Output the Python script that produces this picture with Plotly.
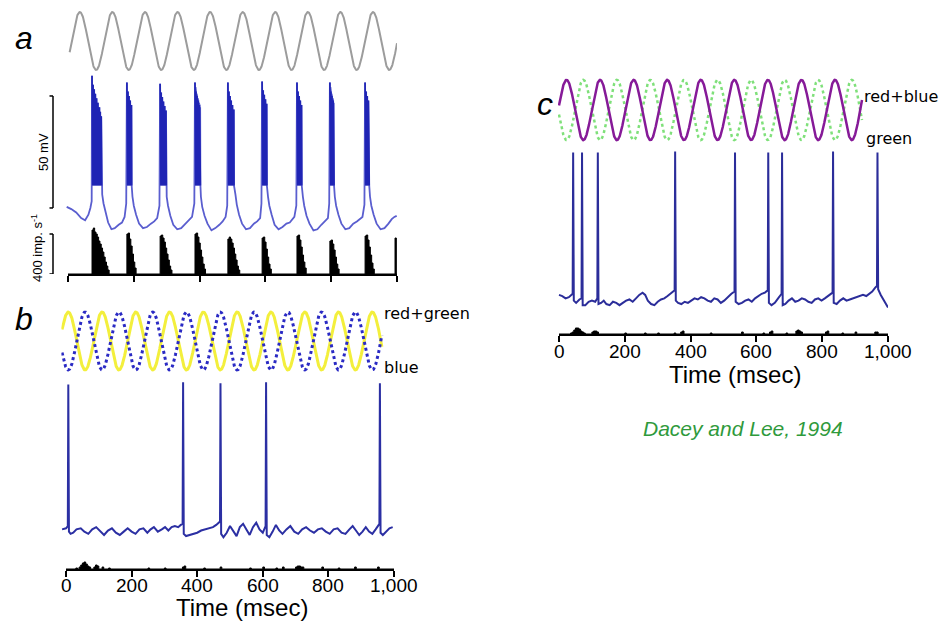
import numpy as np
import plotly.graph_objects as go

W, H = 943, 622

# ------------------------------------------------------------------ data
TIME_TICKS = [0, 200, 400, 600, 800, 1000]
TIME_TICK_TEXT = ["0", "200", "400", "600", "800", "1,000"]

# ---- panel a: achromatic sinusoidal stimulus (ms)
A_STIM_START, A_STIM_END = 5, 1000
A_STIM_PERIOD = 99.0
A_STIM_PEAK = 36.0

# ---- panel a: membrane potential baseline (ms, mV)
A_BASE_T = [-4, 10, 25, 40, 52, 62, 68, 72,
            104, 108, 114, 122, 132, 142, 154, 164, 172, 177,
            196, 200, 207, 216, 228, 240, 252, 262, 271, 278,
            300, 304, 311, 320, 332, 344, 356, 366, 377, 384,
            404, 408, 415, 424, 436, 448, 460, 470, 479, 484,
            509, 513, 520, 529, 541, 553, 565, 575, 584, 588,
            608, 612, 619, 628, 640, 652, 664, 674, 688, 694,
            714, 718, 725, 734, 746, 758, 770, 780, 790, 794,
            811, 815, 822, 831, 843, 855, 867, 878, 895, 901,
            918, 922, 929, 938, 950, 962, 974, 984, 992, 999]
A_BASE_V = [-59.5, -60.5, -62, -64.5, -65.5, -63, -60, -57,
            -54, -58, -62, -66.5, -69.5, -69, -67.5, -66.5, -64, -58,
            -55, -59, -63, -67, -69, -68.5, -67, -66, -64.5, -59,
            -55, -59, -63.5, -67.5, -69.5, -69, -67, -65.5, -64, -58,
            -55, -59.5, -63.5, -67, -70, -69, -67.5, -66, -64, -59,
            -54, -58.5, -63, -67, -69.5, -69, -67, -66, -64.5, -58,
            -55, -59, -63, -67.5, -69.5, -68.5, -67, -66.5, -64, -59,
            -55, -59, -63.5, -67, -70, -69.5, -67.5, -66, -64.5, -58,
            -55, -59, -63, -67, -69.5, -69, -67, -66, -64, -58.5,
            -55, -59, -63, -67, -69.5, -69, -67, -65, -64, -63.5]
# spike bursts
A_BURST_ONSET = [73, 179, 280, 386, 486, 590, 696, 796, 903]
A_BURST_N = [15, 9, 11, 10, 11, 9, 9, 8, 8]
A_BURST_TOP = [-1, -4, -4.5, -4, -4, -3.5, -4, -4, -4]
A_SPIKE_OFFSET = [0, 1.6, 3.2, 4.8, 6.5, 8.2, 10, 11.8, 13.7, 15.7, 17.8, 20, 22.4, 25, 28]
A_SPIKE_DROP = [0, -2, -4, -5, -6, -7, -8, -9, -10, -11, -12, -13, -14, -16, -18]
A_BURST_TROUGH = -50

# ---- panel a: firing-rate histogram (imp/s), 4 ms bins
A_HIST_BIN = 4
A_HIST_START = [73, 179, 280, 386, 486, 590, 696, 796, 903, 994]
A_HIST_COUNTS = [
    [440, 460, 420, 400, 370, 330, 300, 260, 220, 170, 120, 80, 40],
    [400, 410, 350, 280, 200, 120, 60],
    [380, 390, 360, 320, 260, 200, 140, 80, 40],
    [400, 410, 370, 310, 240, 170, 100, 50],
    [350, 370, 350, 310, 260, 200, 140, 80, 40],
    [360, 370, 320, 250, 170, 100, 50],
    [380, 390, 340, 270, 190, 120, 60],
    [330, 340, 300, 240, 170, 100, 50],
    [380, 390, 340, 270, 190, 110, 50],
    [360],
]

# ---- panel b: red+green vs blue stimulus
B_STIM_START, B_STIM_END = -12, 963
B_STIM_PERIOD = 103.0
B_STIM_PEAK = 7.0
# membrane potential
B_BASE_T = [-12, 0, 5.5, 9, 14, 22, 32, 45, 56, 68, 80, 92, 104, 116, 128, 140, 152, 164,
            176, 188, 200, 212, 224, 236, 248, 258, 268, 280, 292, 302, 312, 322, 332, 342,
            350, 355.5, 359, 366, 376, 388, 400, 412, 424, 436, 448, 458, 469.5, 473, 480,
            490, 500, 510, 520, 530, 540, 550, 560, 570, 580, 590, 600, 608.5, 612, 620,
            630, 640, 650, 660, 672, 684, 696, 708, 720, 732, 744, 756, 768, 780, 792, 804,
            816, 828, 840, 852, 864, 874, 884, 894, 904, 914, 924, 934, 944, 955.5, 959,
            966, 976, 986, 996]
B_BASE_V = [-65, -64.5, -63.5, -66, -67, -66.5, -65, -64.5, -66, -67, -65, -64, -66, -67.5,
            -65.5, -64.5, -66.5, -67.5, -66, -64.5, -66, -67, -65, -64.5, -66.5, -65, -64,
            -66, -65, -64, -65.5, -64, -63.5, -64, -63, -62.5, -67, -68, -67.5, -67, -66.5,
            -65.5, -65, -64.5, -64, -63, -61.5, -67, -68.5, -66.5, -63.5, -66, -68, -64,
            -62.5, -65, -67.5, -64, -62, -65, -66.5, -63.5, -67.5, -68.5, -66, -63, -65.5,
            -67, -65, -63.5, -66, -67, -65, -64, -65.5, -66.5, -65, -64.5, -66, -67, -65,
            -64.5, -66.5, -67, -65, -63.5, -65.5, -67.5, -66, -64, -66, -67, -65, -62.5,
            -66.5, -67.5, -66, -64.5, -64]
B_SPIKE_T = [7, 357, 471, 610, 957]
B_SPIKE_V = [0, 1, 0.5, 1, 0.5]
# histogram (imp/s), 5 ms bins
B_HIST_BIN = 5
B_HIST_T = [30, 40, 45, 50, 55, 60, 65, 70, 85, 90, 95, 110, 130, 250, 300, 355, 360, 420,
            470, 560, 600, 640, 660, 700, 705, 710, 715, 720, 780, 830, 880, 950]
B_HIST_V = [10, 20, 40, 60, 70, 50, 30, 20, 20, 40, 30, 20, 10, 10, 10, 20, 30, 10,
            20, 10, 20, 10, 20, 20, 30, 30, 20, 20, 20, 10, 20, 20]

# ---- panel c: red+blue vs green stimulus
C_STIM_START, C_STIM_END = 0, 921
C_STIM_PERIOD = 102.0
C_STIM_PEAK = 23.0
C_BASE_T = [0, 10, 20, 30, 41.5, 45, 52, 62, 68.5, 72, 80, 90, 100, 110, 116.5, 120, 128,
            136, 144, 154, 164, 174, 184, 194, 204, 214, 224, 234, 244, 254, 262, 270, 280,
            290, 300, 310, 320, 330, 340, 351.5, 355, 362, 372, 382, 392, 402, 412, 422,
            432, 442, 452, 462, 472, 482, 492, 502, 512, 524, 533.5, 537, 546, 556, 566,
            576, 586, 596, 606, 616, 626, 634.5, 638, 646, 656, 666, 676.5, 680, 688, 698,
            708, 718, 728, 738, 748, 758, 768, 778, 788, 798, 808, 818, 831.5, 835, 844,
            854, 864, 874, 884, 894, 904, 914, 924, 934, 944, 952, 960, 966.5, 970, 978,
            988, 996, 1000]
C_BASE_V = [-62.5, -63, -64, -63.5, -62, -65, -66, -64.5, -64, -67, -67, -65.5, -65, -65.5,
            -64, -66.5, -66, -65, -66.5, -67, -65.5, -66, -67, -66, -65, -64.5, -65.5, -64,
            -62.5, -61.5, -62.5, -65, -66.5, -67, -65.5, -64.5, -64, -63, -62, -60.5, -65,
            -66, -66.5, -65.5, -66, -65, -64, -64.5, -63.5, -64, -65, -65.5, -64, -64.5,
            -66, -65, -63.5, -62, -61, -65.5, -66.5, -66, -65, -64.5, -65.5, -64, -63, -62,
            -61.5, -60.5, -66, -67, -66, -64, -62, -67, -66.5, -65, -64, -65.5, -65, -64,
            -64.5, -65.5, -66, -64.5, -64, -65, -64, -63, -61.5, -66, -66.5, -65, -64, -65,
            -64.5, -64, -63.5, -63, -62.5, -63, -62, -61, -59.5, -58.5, -60, -62.5, -65,
            -67, -68]
C_SPIKE_T = [43, 70, 118, 353, 535, 636, 678, 833, 968]
C_SPIKE_V = [0, 0, 0, 0.5, 0, 0, 0, 0.5, 0]
C_HIST_BIN = 5
C_HIST_T = [35, 40, 45, 50, 55, 60, 65, 70, 75, 100, 105, 110, 115, 200, 260, 300, 350, 370,
            375, 460, 555, 620, 640, 645, 690, 720, 725, 730, 735, 810, 815, 860, 900, 960, 965]
C_HIST_V = [10, 20, 40, 60, 60, 50, 30, 20, 10, 20, 30, 30, 20, 10, 10, 10, 10, 20,
            30, 10, 20, 10, 20, 30, 10, 30, 40, 30, 20, 20, 30, 10, 20, 20, 20]

# ------------------------------------------------------------------ helpers
FONT = "Liberation Sans, Arial, sans-serif"
DV = "DejaVu Sans, sans-serif"


def xdom(t0px, s, r0, r1):
    return [(t0px + r0 * s) / W, (t0px + r1 * s) / W]


def ydom(top_px, bot_px):
    return [1 - bot_px / H, 1 - top_px / H]


def stim(start, end, period, peak, sign=1.0):
    t = np.linspace(start, end, 1200)
    return t, sign * np.cos(2 * np.pi * (t - peak) / period)


def trace_with_spikes(bt, bv, st, sv):
    pts = sorted(list(zip(bt, bv)) + list(zip(st, sv)))
    return [p[0] for p in pts], [p[1] for p in pts]


def step_hist(starts, counts, width):
    xs, ys = [0], [0]
    for s, cl in zip(starts, counts):
        for i, c in enumerate(cl):
            xs.append(s + i * width)
            ys.append(c)
        xs.append(s + len(cl) * width)
        ys.append(0)
    xs.append(1000)
    ys.append(0)
    return xs, ys


fig = go.Figure()
layout = dict(width=W, height=H, autosize=False,
              margin=dict(l=0, r=0, t=0, b=0, pad=0, autoexpand=False),
              paper_bgcolor="white", plot_bgcolor="rgba(0,0,0,0)", showlegend=False)


def hidden_axes(i, xd, xr, yd, yr):
    sx = "" if i == 1 else str(i)
    layout["xaxis" + sx] = dict(domain=xd, range=xr, visible=False, automargin=False,
                                anchor="y" + sx if sx else "y")
    layout["yaxis" + sx] = dict(domain=yd, range=yr, visible=False, automargin=False,
                                anchor="x" + sx if sx else "x")


def hist_axes(i, xd, yd, yr):
    sx = str(i)
    layout["xaxis" + sx] = dict(domain=xd, range=[0, 1000], anchor="y" + sx, showline=True,
                                linecolor="black", linewidth=2, ticks="outside", ticklen=6,
                                tickwidth=1.5, tickcolor="black", tickvals=TIME_TICKS,
                                showticklabels=False, automargin=False,
                                showgrid=False, zeroline=False)
    layout["yaxis" + sx] = dict(domain=yd, range=yr, visible=False, anchor="x" + sx,
                                automargin=False)


# ---------------- panel a
A_T0, A_S = 68, 0.329
hidden_axes(1, xdom(A_T0, A_S, -12, 1000), [-12, 1000], ydom(8, 74), [-1.14, 1.14])
hidden_axes(2, xdom(A_T0, A_S, -12, 1000), [-12, 1000], ydom(70, 240), [-74.3, 1.6])
hist_axes(3, xdom(A_T0, A_S, 0, 1000), ydom(226, 274), [0, 480])

t, y = stim(A_STIM_START, A_STIM_END, A_STIM_PERIOD, A_STIM_PEAK)
fig.add_trace(go.Scatter(x=t, y=y, mode="lines", line=dict(color="#9c9c9c", width=2),
                         xaxis="x", yaxis="y", hoverinfo="skip"))

burst_t, burst_v = [], []
for b, onset in enumerate(A_BURST_ONSET):
    for i in range(A_BURST_N[b]):
        ts = onset + A_SPIKE_OFFSET[i]
        burst_t += [ts, ts + 0.8]
        burst_v += [A_BURST_TOP[b] + A_SPIKE_DROP[i], A_BURST_TROUGH]
at, av = trace_with_spikes(A_BASE_T, A_BASE_V, burst_t, burst_v)
fig.add_trace(go.Scatter(x=at, y=av, mode="lines", line=dict(color="#5a5ecf", width=1.8),
                         xaxis="x2", yaxis="y2", hoverinfo="skip"))
ov_t, ov_v = [], []
for b, onset in enumerate(A_BURST_ONSET):
    seg = [(x, v) for x, v in zip(at, av)
           if onset - 0.5 <= x <= onset + A_SPIKE_OFFSET[A_BURST_N[b] - 1] + 1]
    ov_t += [p[0] for p in seg] + [None]
    ov_v += [p[1] for p in seg] + [None]
fig.add_trace(go.Scatter(x=ov_t, y=ov_v, mode="lines", line=dict(color="#1f24b4", width=1.6),
                         xaxis="x2", yaxis="y2", hoverinfo="skip"))

hx, hy = step_hist(A_HIST_START, A_HIST_COUNTS, A_HIST_BIN)
fig.add_trace(go.Scatter(x=hx, y=hy, mode="lines", line=dict(color="black", width=1, shape="hv"),
                         fill="tozeroy", fillcolor="black", xaxis="x3", yaxis="y3", hoverinfo="skip"))

# ---------------- panel b
B_T0, B_S = 66, 0.328
hidden_axes(4, xdom(B_T0, B_S, -14, 1000), [-14, 1000], ydom(308, 374), [-1.14, 1.14])
hidden_axes(5, xdom(B_T0, B_S, -14, 1000), [-14, 1000], ydom(380, 545), [-72, 2])
hist_axes(6, xdom(B_T0, B_S, 0, 1000), ydom(540, 569), [0, 290])

t, y = stim(B_STIM_START, B_STIM_END, B_STIM_PERIOD, B_STIM_PEAK)
fig.add_trace(go.Scatter(x=t, y=y, mode="lines", line=dict(color="#f3ef3c", width=3),
                         xaxis="x4", yaxis="y4", hoverinfo="skip"))
t, y = stim(B_STIM_START, B_STIM_END, B_STIM_PERIOD, B_STIM_PEAK, -1.0)
fig.add_trace(go.Scatter(x=t, y=y, mode="lines", line=dict(color="#2a2ac4", width=3, dash="dot"),
                         xaxis="x4", yaxis="y4", hoverinfo="skip"))
bt, bv = trace_with_spikes(B_BASE_T, B_BASE_V, B_SPIKE_T, B_SPIKE_V)
fig.add_trace(go.Scatter(x=bt, y=bv, mode="lines", line=dict(color="#2b2fa3", width=2),
                         xaxis="x5", yaxis="y5", hoverinfo="skip"))
hx, hy = step_hist(B_HIST_T, [[v] for v in B_HIST_V], B_HIST_BIN)
fig.add_trace(go.Scatter(x=hx, y=hy, mode="lines", line=dict(color="black", width=1, shape="hv"),
                         fill="tozeroy", fillcolor="black", xaxis="x6", yaxis="y6", hoverinfo="skip"))

# ---------------- panel c
C_T0, C_S = 559, 0.329
hidden_axes(7, xdom(C_T0, C_S, -3, 1000), [-3, 1000], ydom(76, 144), [-1.13, 1.13])
hidden_axes(8, xdom(C_T0, C_S, -3, 1000), [-3, 1000], ydom(148, 312), [-70, 2])
hist_axes(9, xdom(C_T0, C_S, 0, 1000), ydom(305, 334), [0, 290])

t, y = stim(C_STIM_START, C_STIM_END, C_STIM_PERIOD, C_STIM_PEAK, -1.0)
fig.add_trace(go.Scatter(x=t, y=y, mode="lines", line=dict(color="#7fe07a", width=2.5, dash="dot"),
                         xaxis="x7", yaxis="y7", hoverinfo="skip"))
t, y = stim(C_STIM_START, C_STIM_END, C_STIM_PERIOD, C_STIM_PEAK)
fig.add_trace(go.Scatter(x=t, y=y, mode="lines", line=dict(color="#861a98", width=2.5),
                         xaxis="x7", yaxis="y7", hoverinfo="skip"))
ct, cv = trace_with_spikes(C_BASE_T, C_BASE_V, C_SPIKE_T, C_SPIKE_V)
fig.add_trace(go.Scatter(x=ct, y=cv, mode="lines", line=dict(color="#2b2d9a", width=2),
                         xaxis="x8", yaxis="y8", hoverinfo="skip"))
hx, hy = step_hist(C_HIST_T, [[v] for v in C_HIST_V], C_HIST_BIN)
fig.add_trace(go.Scatter(x=hx, y=hy, mode="lines", line=dict(color="black", width=1, shape="hv"),
                         fill="tozeroy", fillcolor="black", xaxis="x9", yaxis="y9", hoverinfo="skip"))

# ---------------- scale bars (panel a), in data units
BAR_X = 53 / W
SERIF = 3.5 / W
shapes = []
for yref, y0, y1 in [("y2", -60, -10), ("y3", 0, 400)]:
    shapes.append(dict(type="line", xref="paper", yref=yref, x0=BAR_X, x1=BAR_X, y0=y0, y1=y1,
                       line=dict(color="black", width=1.5)))
    for yy in (y0, y1):
        shapes.append(dict(type="line", xref="paper", yref=yref, x0=BAR_X - SERIF, x1=BAR_X,
                           y0=yy, y1=yy, line=dict(color="black", width=1.5)))
layout["shapes"] = shapes


# ---------------- text
def ann(text, xpx, ypx, size, family=FONT, color="black", xanchor="center", angle=0):
    return dict(text=text, x=xpx / W, y=1 - ypx / H, xref="paper", yref="paper",
                showarrow=False, xanchor=xanchor, yanchor="middle", textangle=angle,
                font=dict(family=family, size=size, color=color))


anns = [
    ann("<i>a</i>", 24, 38, 32),
    ann("<i>b</i>", 24, 319, 32),
    ann("<i>c</i>", 545, 104, 32),
    ann("50 mV", 43, 152, 13, angle=-90),
    ann("400 imp. s<sup>-1</sup>", 37, 248, 13, angle=-90),
    ann("red+green", 382, 314, 16, family=DV, xanchor="left"),
    ann("blue", 382, 367, 16, family=DV, xanchor="left"),
    ann("red+blue", 862, 96, 16, family=DV, xanchor="left"),
    ann("green", 864, 138, 16, family=DV, xanchor="left"),
    ann("Time (msec)", 242, 607, 24),
    ann("Time (msec)", 735, 374, 24),
    ann("<i>Dacey and Lee, 1994</i>", 743, 428, 21, color="#2f9a3c"),
]
# tick labels placed on the time axes of panels b and c
for xref, ypx in (("x6", 585), ("x9", 351)):
    for v, txt in zip(TIME_TICKS, TIME_TICK_TEXT):
        anns.append(dict(text=txt, x=v, xref=xref, y=1 - ypx / H, yref="paper",
                         showarrow=False, xanchor="center", yanchor="middle",
                         font=dict(family=FONT, size=19, color="black")))
layout["annotations"] = anns

fig.update_layout(**layout)
fig.write_html("out.html")
